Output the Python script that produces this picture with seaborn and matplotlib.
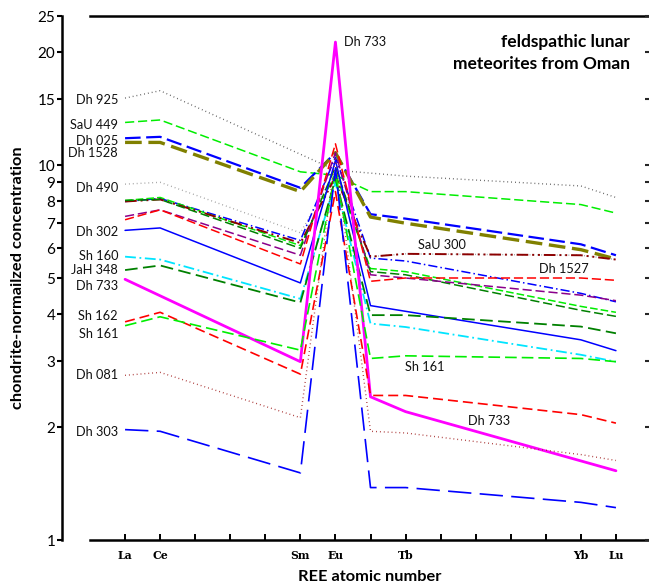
import numpy as np
import pandas as pd
import matplotlib
matplotlib.use("Agg")
import matplotlib.pyplot as plt
import seaborn as sns

# ---------------- data ----------------
ree = ["La", "Ce", "Sm", "Eu", "Gd", "Tb", "Yb", "Lu"]
ree_z = [57, 58, 62, 63, 64, 65, 70, 71]
N = None

dh925 = [15.1, 15.8, N, 9.7, N, 9.35, 8.8, 8.2]
sau449 = [13.0, 13.2, 9.6, 9.4, 8.5, 8.5, 7.85, 7.45]
dh025 = [11.8, 11.9, 8.7, 10.8, 7.4, 7.2, 6.15, 5.75]
dh1528 = [11.5, 11.5, 8.5, 10.8, 7.27, 7.0, 5.95, 5.62]
dh490 = [8.9, 9.0, 6.6, 9.6, 5.7, 5.8, 5.75, 5.6]
unk_blue = [8.0, 8.15, 6.3, 10.5, 5.65, 5.55, 4.55, 4.32]
unk_lime = [8.05, 8.2, 6.1, 9.5, 5.3, 5.2, 4.2, 4.05]
sau300 = [8.0, 8.1, 6.2, 9.3, 5.7, 5.8, 5.75, 5.6]
unk_dkgreen = [8.05, 8.1, 6.0, 9.9, 5.2, 5.1, 4.1, 3.95]
unk_purple = [7.3, 7.6, 5.75, 10.8, 5.1, 5.0, 4.5, 4.35]
dh1527 = [7.15, 7.6, 5.45, 11.4, 4.9, 5.0, 5.0, 4.93]
dh302 = [6.7, 6.8, 4.85, 10.3, 4.22, N, 3.42, 3.2]
sh160 = [5.7, 5.6, 4.4, 9.0, 3.78, 3.7, 3.12, 2.99]
jah348 = [5.25, 5.4, 4.3, 9.2, 3.98, 3.98, 3.71, 3.56]
dh733 = [4.96, N, 2.99, 21.3, 2.41, 2.2, N, 1.53]
sh162 = [3.82, 4.05, 2.77, 8.5, 2.43, 2.43, 2.16, 2.05]
sh161 = [3.73, 3.94, 3.21, 9.5, 3.05, 3.1, 3.05, 2.99]
dh081 = [2.75, 2.8, 2.12, 10.5, 1.95, 1.93, 1.69, 1.63]
dh303 = [1.97, 1.95, 1.51, 9.8, 1.38, 1.38, 1.26, 1.22]

series_names = ["Dh 925", "SaU 449", "Dh 025", "Dh 1528", "Dh 490", "unk_blue",
                "unk_lime", "SaU 300", "unk_dkgreen", "unk_purple", "Dh 1527",
                "Dh 302", "Sh 160", "JaH 348", "Dh 733", "Sh 162", "Sh 161",
                "Dh 081", "Dh 303"]
series_values = [dh925, sau449, dh025, dh1528, dh490, unk_blue, unk_lime, sau300,
                 unk_dkgreen, unk_purple, dh1527, dh302, sh160, jah348, dh733,
                 sh162, sh161, dh081, dh303]

ytick_vals = [1, 2, 3, 4, 5, 6, 7, 8, 9, 10, 15, 20, 25]
xtick_z = list(range(57, 72))
xtick_labels = ["La", "Ce", "", "", "", "Sm", "Eu", "", "Tb", "", "", "", "", "Yb", "Lu"]

left_labels = ["Dh 925", "SaU 449", "Dh 025", "Dh 1528", "Dh 490", "Dh 302", "Sh 160",
               "JaH 348", "Dh 733", "Sh 162", "Sh 161", "Dh 081", "Dh 303"]
left_label_y = [14.9, 12.8, 11.6, 10.8, 8.67, 6.62, 5.72, 5.25, 4.76, 3.96, 3.54, 2.75, 1.945]

# ---------------- styles ----------------
styles = {
    "Dh 925":      dict(color="#555555", lw=1.0, ls=(0, (0.6, 2.2))),
    "SaU 449":     dict(color="#00ee00", lw=1.1, ls=(0, (6, 2.5))),
    "Dh 025":      dict(color="#0000ff", lw=1.6, ls=(0, (7, 2.5))),
    "Dh 1528":     dict(color="#808000", lw=2.4, ls=(0, (5, 2))),
    "Dh 490":      dict(color="#999999", lw=1.0, ls=(0, (0.6, 2.2))),
    "unk_blue":    dict(color="#0000ff", lw=1.1, ls=(0, (6, 2, 1, 2))),
    "unk_lime":    dict(color="#00ee00", lw=1.1, ls=(0, (5, 2))),
    "SaU 300":     dict(color="#8b0000", lw=1.4, ls=(0, (6, 2, 1, 2, 1, 2))),
    "unk_dkgreen": dict(color="#008000", lw=1.1, ls=(0, (6, 2.5))),
    "unk_purple":  dict(color="#8b008b", lw=1.1, ls=(0, (6, 2.5))),
    "Dh 1527":     dict(color="#ff0000", lw=1.1, ls=(0, (6, 2.5))),
    "Dh 302":      dict(color="#0000ff", lw=1.1, ls="-"),
    "Sh 160":      dict(color="#00e5ff", lw=1.3, ls=(0, (6, 2, 1, 2))),
    "JaH 348":     dict(color="#008000", lw=1.3, ls=(0, (7, 3))),
    "Dh 733":      dict(color="#ff00ff", lw=2.0, ls="-"),
    "Sh 162":      dict(color="#ff0000", lw=1.2, ls=(0, (6, 3))),
    "Sh 161":      dict(color="#00ee00", lw=1.2, ls=(0, (7, 3))),
    "Dh 081":      dict(color="#a52a2a", lw=1.0, ls=(0, (0.6, 2.2))),
    "Dh 303":      dict(color="#0000ff", lw=1.2, ls=(0, (14, 5))),
}

sns.set_theme(style="white")
plt.rcParams["font.family"] = ["Lato", "DejaVu Sans"]

W, H = 649, 584
fig = plt.figure(figsize=(W / 100, H / 100), dpi=100)
ax_l, ax_r, ax_t, ax_b = 90, 651, 16, 540
ax = fig.add_axes([ax_l / W, 1 - ax_b / H, (ax_r - ax_l) / W, (ax_b - ax_t) / H])

for name, vals in zip(series_names, series_values):
    xs = [z for z, v in zip(ree_z, vals) if v is not None]
    ys = [v for v in vals if v is not None]
    df = pd.DataFrame({"z": xs, "v": ys})
    st = styles[name]
    sns.lineplot(data=df, x="z", y="v", ax=ax, color=st["color"], lw=st["lw"],
                 linestyle=st["ls"], sort=False, estimator=None, legend=False)

ax.set_yscale("log")
ax.set_ylim(1, 25)
ax.set_xlim(56, 72)

ax.set_yticks(ytick_vals)
ax.set_yticklabels([str(v) for v in ytick_vals])
ax.yaxis.set_minor_locator(matplotlib.ticker.NullLocator())
ax.set_xticks(xtick_z)
ax.set_xticklabels(xtick_labels)

for lab in ax.get_yticklabels() + ax.get_xticklabels():
    lab.set_fontfamily("DejaVu Serif")
    lab.set_fontweight("bold")
    lab.set_fontsize(7.8)
    lab.set_color("black")

for s in ["left", "bottom", "top", "right"]:
    ax.spines[s].set_visible(True)
    ax.spines[s].set_color("black")
    ax.spines[s].set_linewidth(1.8)
ax.spines["left"].set_position(("outward", 20))

ax.tick_params(axis="y", which="major", left=True, right=False, direction="out",
               length=3.5, width=1.5, pad=1.5, colors="black")
ax.tick_params(axis="x", which="major", bottom=True, top=False, direction="in",
               length=4, width=1.4, pad=7, colors="black")

ax2 = ax.twinx()
ax2.set_yscale("log")
ax2.set_ylim(1, 25)
ax2.set_yticks(ytick_vals)
ax2.yaxis.set_minor_locator(matplotlib.ticker.NullLocator())
ax2.tick_params(axis="y", which="major", right=True, left=False, direction="in",
                length=4, width=1.5, labelright=False)
for s in ["left", "bottom", "top", "right"]:
    ax2.spines[s].set_visible(False)

ax.set_xlabel("")
ax.set_ylabel("")
ax.grid(False)

lab_font = dict(family=["Lato", "DejaVu Sans"], size=9.2, color="#111111")
for name, yv in zip(left_labels, left_label_y):
    ax.annotate(name, xy=(57, yv), xytext=(-5, 0), textcoords="offset points",
                ha="right", va="center", **lab_font)

ax.text(66.05, 6.13, "SaU 300", ha="center", va="center", **lab_font)
ax.text(69.5, 5.28, "Dh 1527", ha="center", va="center", **lab_font)
ax.text(65.54, 2.90, "Sh 161", ha="center", va="center", **lab_font)
ax.text(67.37, 2.08, "Dh 733", ha="center", va="center", **lab_font)
ax.text(63.23, 21.3, "Dh 733", ha="left", va="center", **lab_font)

ax.text(71.4, 21.3, "feldspathic lunar", ha="right", va="center",
        family=["Lato", "DejaVu Sans"], weight="bold", size=12.5, color="black")
ax.text(71.4, 18.6, "meteorites from Oman", ha="right", va="center",
        family=["Lato", "DejaVu Sans"], weight="bold", size=12.5, color="black")

fig.text(370 / W, 1 - 577 / H, "REE atomic number", ha="center", va="center",
         family=["Lato", "DejaVu Sans"], weight="bold", size=11.8, color="black")
fig.text(18 / W, 1 - 278 / H, "chondrite-normailzed concentration", ha="center",
         va="center", rotation=90, family=["Lato", "DejaVu Sans"], weight="bold",
         size=11.8, color="black")

fig.savefig("out.png", dpi=100, facecolor="white")
